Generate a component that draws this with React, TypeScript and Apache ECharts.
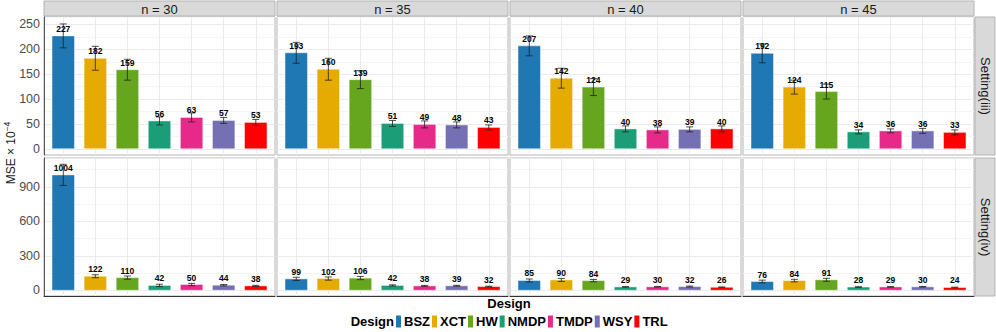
import React, { useEffect, useRef } from "react";
import * as echarts from "echarts";

// ---------- data ----------
const designs = ["BSZ", "XCT", "HW", "NMDP", "TMDP", "WSY", "TRL"];
const designColors = ["#1F77B4", "#E6AB02", "#66A61E", "#1B9E77", "#E7298A", "#7570B3", "#FF0000"];
const sampleSizes = ["n = 30", "n = 35", "n = 40", "n = 45"];
const settings = ["Setting(iii)", "Setting(iv)"];

// Setting (iii): MSE x 10^-4 and error-bar half widths
const iiiN30 = [227, 182, 159, 56, 63, 57, 53];
const iiiN30Err = [24, 24, 21, 8, 9, 6, 6];
const iiiN35 = [193, 160, 139, 51, 49, 48, 43];
const iiiN35Err = [21, 22, 18, 6, 7, 6, 5];
const iiiN40 = [207, 142, 124, 40, 38, 39, 40];
const iiiN40Err = [20, 20, 17, 6, 6, 5, 6];
const iiiN45 = [192, 124, 115, 34, 36, 36, 33];
const iiiN45Err = [19, 14, 15, 4, 4, 5, 5];

// Setting (iv)
const ivN30 = [1004, 122, 110, 42, 50, 44, 38];
const ivN30Err = [92, 13, 14, 10, 10, 6, 5];
const ivN35 = [99, 102, 106, 42, 38, 39, 32];
const ivN35Err = [14, 14, 14, 5, 4, 4, 3];
const ivN40 = [85, 90, 84, 29, 30, 32, 26];
const ivN40Err = [13, 13, 10, 3, 3, 4, 3];
const ivN45 = [76, 84, 91, 28, 29, 30, 24];
const ivN45Err = [12, 11, 13, 3, 3, 3, 3];

const topTicksMajor = 50;
const bottomTicksMajor = 300;

const panelValues = [
  [iiiN30, iiiN35, iiiN40, iiiN45],
  [ivN30, ivN35, ivN40, ivN45],
];
const panelErrors = [
  [iiiN30Err, iiiN35Err, iiiN40Err, iiiN45Err],
  [ivN30Err, ivN35Err, ivN40Err, ivN45Err],
];

// ---------- layout ----------
const FONT = "'Liberation Sans', Arial, Helvetica, sans-serif";
const W = 996;
const H = 332;
const colLeft = [44, 277, 510, 743];
const colWidth = 231;
const rowTop = [17, 158];
const rowHeight = 138;
const stripTop = 1;
const stripRightX = 975;
const stripRightW = 20;
const MAJOR = "#EBEBEB";
const MINOR = "#F5F5F5";
const T = "rgba(0,0,0,0)";

function buildOption() {
  const grid: any[] = [];
  const xAxis: any[] = [];
  const yAxis: any[] = [];
  const series: any[] = [];
  const graphic: any[] = [];

  for (let r = 0; r < 2; r++) {
    for (let c = 0; c < 4; c++) {
      const gi = r * 4 + c;
      grid.push({
        left: colLeft[c],
        top: rowTop[r],
        width: colWidth,
        height: rowHeight,
        show: true,
        backgroundColor: "#FFFFFF",
        borderColor: "#B3B3B3",
        borderWidth: 1,
      });
      xAxis.push({
        gridIndex: gi,
        type: "value",
        min: 0.4,
        max: 7.6,
        interval: 0.2,
        axisLabel: { show: false },
        axisTick: { show: false },
        axisLine: { show: r === 1, onZero: false, lineStyle: { color: "#333333", width: 1 } },
        splitLine: { show: true, lineStyle: { color: [T, T, T, MAJOR, T], width: 1 } },
      });
      const isTop = r === 0;
      const major = isTop ? topTicksMajor : bottomTicksMajor;
      yAxis.push({
        gridIndex: gi,
        type: "value",
        min: isTop ? -12.5 : -50,
        max: isTop ? 265 : 1151,
        interval: isTop ? 12.5 : 50,
        axisLine: { show: c === 0, onZero: false, lineStyle: { color: "#555555", width: 1 } },
        axisTick: { show: false },
        axisLabel: {
          show: c === 0,
          margin: 4,
          color: "#4D4D4D",
          fontSize: 12.5,
          fontFamily: FONT,
          formatter: (v: number) => {
            const k = Math.round(v * 1000) / 1000;
            return k >= 0 && Math.abs(k % major) < 1e-6 && k < (isTop ? 260 : 1100) ? String(k) : "";
          },
        },
        splitLine: {
          show: true,
          lineStyle: {
            color: isTop ? [T, MAJOR, T, MINOR] : [T, MAJOR, T, T, MINOR, T],
            width: 1,
          },
        },
      });

      const vals = panelValues[r][c];
      const errs = panelErrors[r][c];
      designs.forEach((d, di) => {
        series.push({
          type: "custom",
          name: d,
          xAxisIndex: gi,
          yAxisIndex: gi,
          itemStyle: { color: designColors[di] },
          clip: false,
          data: [[di + 1, vals[di], errs[di]]],
          renderItem: (params: any, api: any) => {
            const x = api.value(0);
            const v = api.value(1);
            const e = api.value(2);
            const [cx, y0] = api.coord([x, 0]);
            const yt = api.coord([x, v])[1];
            const yhi = api.coord([x, v + e])[1];
            const ylo = api.coord([x, v - e])[1];
            const bw = api.size([0.7, 0])[0];
            const cw = api.size([0.22, 0])[0];
            return {
              type: "group",
              children: [
                {
                  type: "rect",
                  shape: { x: cx - bw / 2, y: yt, width: bw, height: y0 - yt },
                  style: { fill: designColors[di], stroke: "rgba(255,255,255,0.45)", lineWidth: 1 },
                },
                {
                  type: "line",
                  shape: { x1: cx, y1: yhi, x2: cx, y2: ylo },
                  style: { stroke: "#222222", lineWidth: 0.8 },
                },
                {
                  type: "line",
                  shape: { x1: cx - cw / 2, y1: yhi, x2: cx + cw / 2, y2: yhi },
                  style: { stroke: "#222222", lineWidth: 0.8 },
                },
                {
                  type: "line",
                  shape: { x1: cx - cw / 2, y1: ylo, x2: cx + cw / 2, y2: ylo },
                  style: { stroke: "#222222", lineWidth: 0.8 },
                },
                {
                  type: "text",
                  x: cx,
                  y: yt - 2.5,
                  style: {
                    text: String(v),
                    align: "center",
                    verticalAlign: "bottom",
                    fontSize: 8.5,
                    fontWeight: "bold",
                    fontFamily: FONT,
                    fill: "#000000",
                  },
                },
              ],
            };
          },
        });
      });
    }
  }

  // top strips
  sampleSizes.forEach((s, c) => {
    graphic.push({
      type: "rect",
      shape: { x: colLeft[c], y: stripTop, width: colWidth, height: rowTop[0] - stripTop - 1 },
      style: { fill: "#D9D9D9", stroke: "#B3B3B3", lineWidth: 1 },
    });
    graphic.push({
      type: "text",
      x: colLeft[c] + colWidth / 2,
      y: (stripTop + rowTop[0] - 1) / 2 + 0.5,
      style: {
        text: s,
        align: "center",
        verticalAlign: "middle",
        fontSize: 13,
        fontFamily: FONT,
        fill: "#1A1A1A",
      },
    });
  });
  // right strips
  settings.forEach((s, r) => {
    graphic.push({
      type: "rect",
      shape: { x: stripRightX, y: rowTop[r], width: stripRightW, height: rowHeight },
      style: { fill: "#D9D9D9", stroke: "#B3B3B3", lineWidth: 1 },
    });
    graphic.push({
      type: "text",
      x: stripRightX + stripRightW / 2,
      y: rowTop[r] + rowHeight / 2,
      rotation: -Math.PI / 2,
      style: {
        text: s,
        align: "center",
        verticalAlign: "middle",
        fontSize: 13,
        fontFamily: FONT,
        fill: "#1A1A1A",
      },
    });
  });
  // y title
  graphic.push({
    type: "text",
    x: 11,
    y: 153,
    rotation: Math.PI / 2,
    style: {
      text: "MSE × 10{sup|−4}",
      align: "center",
      verticalAlign: "middle",
      fontSize: 12,
      fontFamily: FONT,
      fill: "#1A1A1A",
      rich: {
        sup: { fontSize: 8.5, fontFamily: FONT, fill: "#1A1A1A", verticalAlign: "top", lineHeight: 17 },
      },
    },
  });
  // x title
  graphic.push({
    type: "text",
    x: (colLeft[0] + colLeft[3] + colWidth) / 2,
    y: 303,
    style: {
      text: "Design",
      align: "center",
      verticalAlign: "middle",
      fontSize: 13,
      fontWeight: "bold",
      fontFamily: FONT,
      fill: "#000000",
    },
  });
  // legend title
  graphic.push({
    type: "text",
    x: 394,
    y: 321.5,
    style: {
      text: "Design",
      align: "right",
      verticalAlign: "middle",
      fontSize: 13,
      fontWeight: "bold",
      fontFamily: FONT,
      fill: "#000000",
    },
  });

  return {
    animation: false,
    backgroundColor: "#FFFFFF",
    grid,
    xAxis,
    yAxis,
    series,
    graphic,
    legend: {
      data: designs,
      left: 396,
      top: 315,
      padding: 0,
      icon: "rect",
      itemWidth: 5,
      itemHeight: 12,
      itemGap: 2,
      textStyle: {
        fontSize: 13,
        fontWeight: "bold",
        fontFamily: FONT,
        color: "#000000",
        padding: [0, 0, 0, -2],
      },
    },
  };
}

export default function App() {
  const ref = useRef<HTMLDivElement>(null);
  useEffect(() => {
    if (!ref.current) return;
    const chart = echarts.init(ref.current, undefined, { renderer: "svg" });
    chart.setOption(buildOption() as any);
    return () => chart.dispose();
  }, []);
  return (
    <div
      ref={ref}
      style={{ position: "absolute", left: 0, top: 0, width: W, height: H, background: "#fff" }}
    />
  );
}
